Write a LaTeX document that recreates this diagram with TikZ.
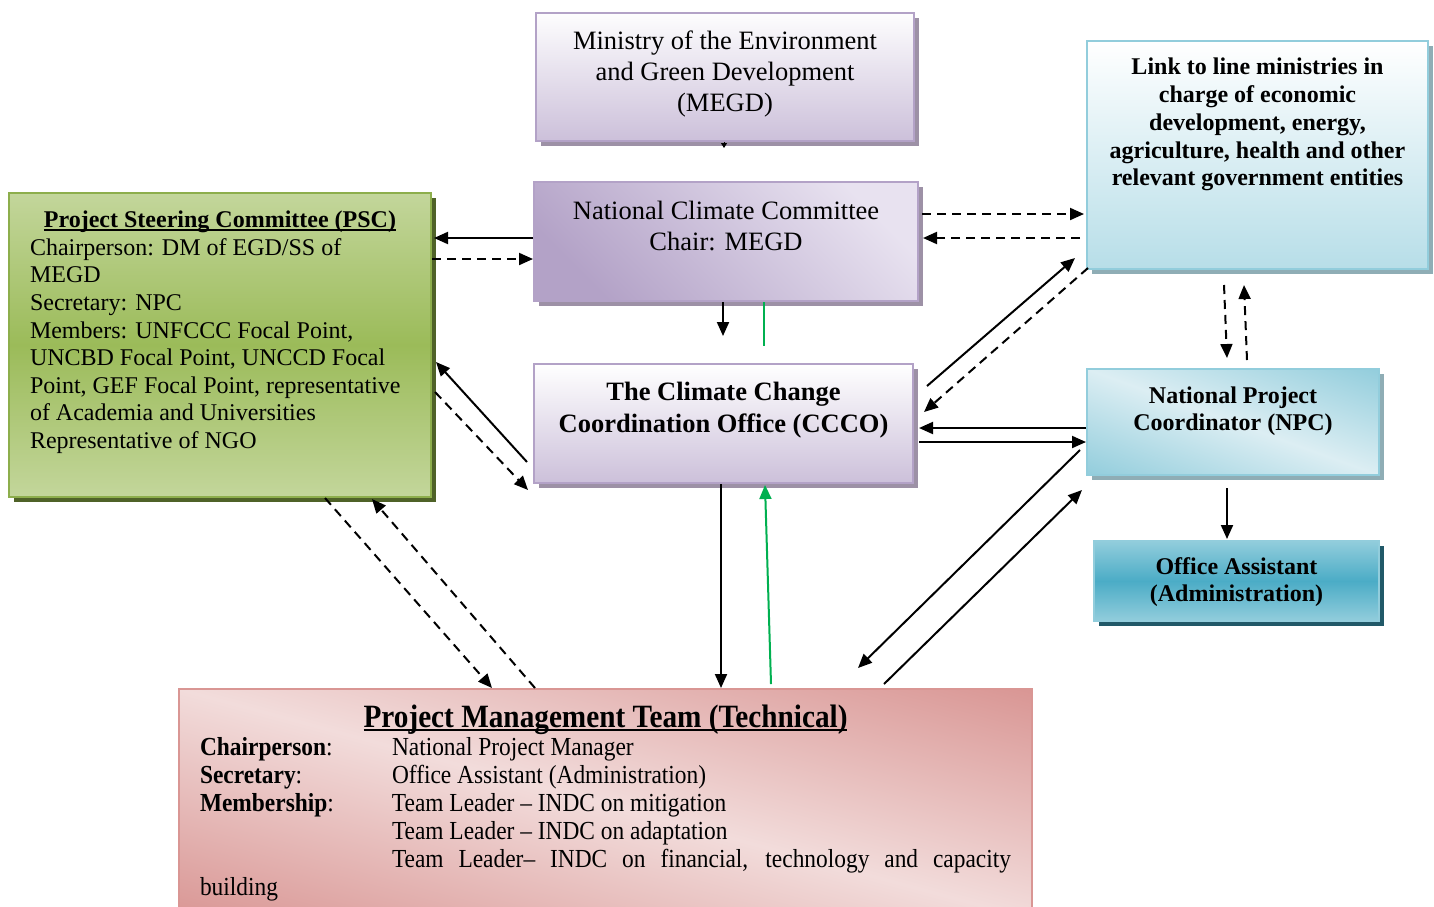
\documentclass[tikz,border=0pt]{standalone}
\usepackage{fontspec}
\setmainfont{Liberation Serif}
\newfontfamily\pmtfont[FakeStretch=0.9,Ligatures=TeX]{Liberation Serif}
\usetikzlibrary{arrows.meta,calc,shadows}
\definecolor{purpbd}{HTML}{B3A2C7}
\definecolor{purplo}{HTML}{CCC0DA}
\definecolor{purphi}{HTML}{E8E2F0}
\definecolor{purpsh}{HTML}{9D91A6}
\definecolor{grnlt}{HTML}{C3D69B}
\definecolor{grnmd}{HTML}{9BBB59}
\definecolor{grnbd}{HTML}{8DAE4C}
\definecolor{grnsh}{HTML}{4F6228}
\definecolor{bluelt}{HTML}{B7DEE8}
\definecolor{bluemd}{HTML}{92CDDC}
\definecolor{bluevl}{HTML}{DCEEF3}
\definecolor{bluedk}{HTML}{4BACC6}
\definecolor{bluesh}{HTML}{8FADB5}
\definecolor{tealsh}{HTML}{215968}
\definecolor{pinkdk}{HTML}{D99694}
\definecolor{pinklt}{HTML}{F2DCDB}
\definecolor{grnarrow}{HTML}{00B050}
% light along the top-left/bottom-right diagonal, dark in the other two corners
\pgfdeclarefunctionalshading{pmtshade}{\pgfpoint{-50bp}{-50bp}}{\pgfpoint{50bp}{50bp}}{}{
  add abs 50 div dup 1 gt {pop 1} if
  dup dup -0.098 mul 0.949 add exch -0.275 mul 0.863 add 3 -1 roll -0.279 mul 0.859 add }
\pgfdeclarefunctionalshading{npcshade}{\pgfpoint{-50bp}{-50bp}}{\pgfpoint{50bp}{50bp}}{}{
  add abs 50 div dup 1 gt {pop 1} if
  dup dup -0.29 mul 0.863 add exch -0.129 mul 0.933 add 3 -1 roll -0.09 mul 0.953 add }
\newcommand\myul[1]{\setbox0\hbox{#1}\rlap{\rule[-3pt]{\wd0}{1.6pt}}\box0}
\newcommand\inbox[4]{\parbox[c][#2][t]{#1}{\vspace*{#3}#4}}
\tikzset{
  box/.style={anchor=north west, inner sep=0pt, line width=2pt},
  shad/.style={drop shadow={shadow xshift=5pt, shadow yshift=-5pt, fill=#1, opacity=1}},
  arr/.style={line width=2pt, -{Triangle[length=14pt,width=12pt]}},
  dsh/.style={arr, dash pattern=on 9pt off 6pt},
}
\begin{document}
\begin{tikzpicture}[x=1pt,y=-1pt]
\fill[white] (0,0) rectangle (1434,906);
\useasboundingbox (0,0) rectangle (1434,906);

% boxes
\node[box, draw=purpbd, top color=white!97!purplo, bottom color=purplo, shad=purpsh] (megd) at (535,12)
  {\inbox{378pt}{128pt}{18pt}{\centering\fontsize{26.5}{31}\selectfont Ministry of the Environment\\ and Green Development\\ (MEGD)\par}};

\node[box, draw=purpbd, top color=purphi, bottom color=purpbd, shading angle=-45, shad=purpsh] (ncc) at (533,181)
  {\inbox{384pt}{119pt}{19pt}{\centering\fontsize{26.5}{31}\selectfont National Climate Committee\\ Chair: MEGD\par}};

\node[box, draw=purpbd, top color=white, bottom color=purplo, shad=purpsh] (ccco) at (533,363)
  {\inbox{379pt}{119pt}{18pt}{\centering\bfseries\fontsize{26.5}{32}\selectfont The Climate Change\\ Coordination Office (CCCO)\par}};

\node[box, draw=grnbd, top color=grnlt, bottom color=grnlt, middle color=grnmd, shad=grnsh] (psc) at (8,192)
  {\inbox{422pt}{304pt}{18pt}{\fontsize{24}{27.6}\selectfont
   \centerline{\bfseries\myul{Project Steering Committee (PSC)}}\par
   \raggedright\leftskip=21pt
   Chairperson: DM of EGD/SS of\\ MEGD\\ Secretary: NPC\\ Members: UNFCCC Focal Point,\\ UNCBD Focal Point, UNCCD Focal\\ Point, GEF Focal Point, representative\\ of Academia and Universities\\ Representative of NGO\par}};

\node[box, draw=bluemd, top color=white, bottom color=bluelt, shad=bluesh] (link) at (1086,40)
  {\inbox{341pt}{228pt}{17pt}{\centering\bfseries\fontsize{24}{27.8}\selectfont Link to line ministries in\\ charge of economic\\ development, energy,\\ agriculture, health and other\\ relevant government entities\par}};

\node[box, draw=bluemd, shading=npcshade, shad=bluesh] (npc) at (1086,368)
  {\inbox{292pt}{106pt}{18pt}{\centering\bfseries\fontsize{24}{27}\selectfont National Project\\ Coordinator (NPC)\par}};

\node[box, draw=bluemd, top color=bluemd, bottom color=bluemd, middle color=bluedk, shad=tealsh] (office) at (1093,540)
  {\inbox{285pt}{80pt}{17pt}{\centering\bfseries\fontsize{24}{27}\selectfont Office Assistant\\ (Administration)\par}};

\node[box, draw=pinkdk, shading=pmtshade] (pmt) at (178,688)
  {\inbox{853pt}{230pt}{16pt}{\pmtfont
   \centerline{\fontsize{32.5}{34}\selectfont\bfseries\myul{Project Management Team (Technical)}}\par
   \leftskip=21pt\rightskip=21pt\fontsize{26}{28}\selectfont
   \makebox[192pt][l]{\textbf{Chairperson}:}National Project Manager\\
   \makebox[192pt][l]{\textbf{Secretary}:}Office Assistant (Administration)\\
   \makebox[192pt][l]{\textbf{Membership}:}Team Leader – INDC on mitigation\\
   \hspace*{192pt}Team Leader – INDC on adaptation\\
   \hspace*{192pt}Team Leader– INDC on financial, technology and capacity\linebreak
   building\par}};

% connectors
\coordinate (megdtip) at ($(megd.south)+(-1,6)$);
\draw[line width=1pt, -{Triangle[length=5pt,width=6pt]}] ($(megd.south)+(-1,0)$) -- (megdtip);

\draw[arr] ($(ncc.north west)+(0,57)$) -- ($(psc.north east)+(2,46)$);
\draw[dsh] ($(psc.north east)+(0,67)$) -- ($(ncc.north west)+(0,78)$);
\draw[arr] ($(ncc.south west)+(190,0)$) -- ($(ccco.north west)+(190,-27)$);
\coordinate (greenend) at ($(ncc.south west)+(231,44)$);
\draw[grnarrow, line width=2pt] ($(ncc.south west)+(231,0)$) -- (greenend);

\draw[dsh] ($(ncc.north east)+(3,33)$) -- ($(link.north west)+(-2,174)$);
\draw[dsh] ($(link.north west)+(-6,198)$) -- ($(ncc.north east)+(4,57)$);

\draw[arr] ($(ccco.north east)+(13,23)$) -- ($(link.south west)+(-11,-12)$);
\draw[dsh] ($(link.south west)+(2,-2)$) -- ($(ccco.north east)+(10,49)$);
\draw[arr] ($(npc.north west)+(0,60)$) -- ($(ccco.north east)+(5,65)$);
\draw[arr] ($(ccco.north east)+(5,79)$) -- ($(npc.north west)+(0,74)$);

\draw[dsh] ($(link.south west)+(138,15)$) -- ($(npc.north west)+(141,-10)$);
\draw[dsh] ($(npc.north west)+(161,-8)$) -- ($(link.south west)+(158,15)$);
\draw[arr] ($(npc.south west)+(141,12)$) -- ($(office.north west)+(134,-1)$);

\draw[arr] ($(ccco.south west)+(-6,-22)$) -- ($(psc.north east)+(4,170)$);
\draw[dsh] ($(psc.north east)+(3,200)$) -- ($(ccco.south west)+(-5,6)$);

\draw[dsh] ($(psc.south west)+(317,0)$) -- ($(pmt.north west)+(314,0)$);
\draw[dsh] ($(pmt.north west)+(357,0)$) -- ($(psc.south west)+(364,1)$);

\draw[arr] ($(ccco.south west)+(188,0)$) -- ($(pmt.north west)+(543,0)$);
\draw[arr, draw=grnarrow, fill=grnarrow] ($(pmt.north west)+(593,-4)$) -- ($(ccco.south west)+(232,1)$);

\draw[arr] ($(npc.south west)+(-6,-26)$) -- ($(pmt.north east)+(-175,-20)$);
\draw[arr] ($(pmt.north east)+(-149,-4)$) -- ($(npc.south west)+(-4,14)$);
\end{tikzpicture}
\end{document}
